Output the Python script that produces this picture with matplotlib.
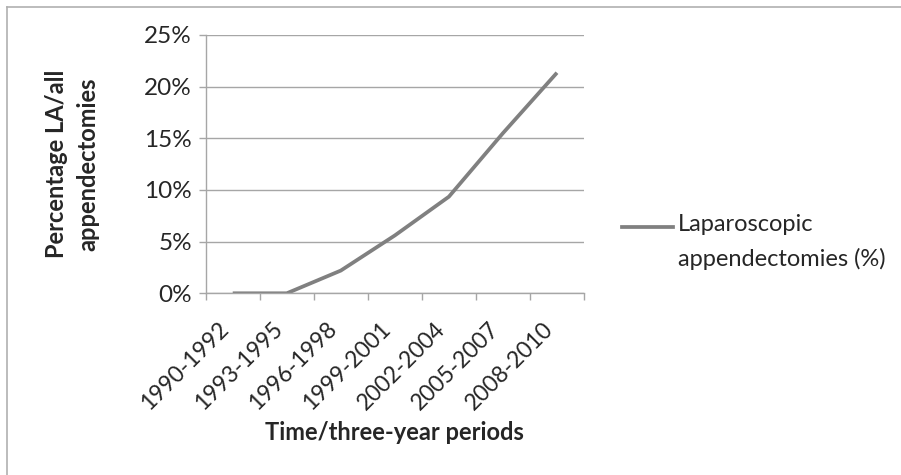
import matplotlib
matplotlib.use("Agg")
import matplotlib.pyplot as plt
from matplotlib.lines import Line2D
from matplotlib.ticker import FuncFormatter
from matplotlib.transforms import ScaledTranslation

plt.rcParams['font.family'] = ['Lato', 'DejaVu Sans']

periods = ["1990-1992", "1993-1995", "1996-1998", "1999-2001",
           "2002-2004", "2005-2007", "2008-2010"]
la_percent = [0.0, 0.0, 2.2, 5.6, 9.35, 15.5, 21.35]
yticks = [0, 5, 10, 15, 20, 25]
series_label = "Laparoscopic\nappendectomies (%)"

W, H = 901, 475
fig = plt.figure(figsize=(W / 100, H / 100), dpi=100)
ax = fig.add_axes([205.7 / W, 1 - 293.3 / H, (584 - 205.7) / W, (293.3 - 35) / H])

line_color = "#808080"
grid_color = "#a6a6a6"
text_color = "#262626"

x = list(range(len(periods)))
ax.plot(x, la_percent, color=line_color, lw=2.7, solid_capstyle='butt')

ax.set_xlim(-0.5, len(periods) - 0.5)
ax.set_ylim(0, 25)
ax.set_yticks(yticks)
ax.yaxis.set_major_formatter(FuncFormatter(lambda v, p: f"{int(v)}%"))
ax.grid(axis='y', color=grid_color, lw=1.0)
ax.set_axisbelow(True)

# x ticks at category boundaries, labels at centers
ax.set_xticks([i - 0.5 for i in range(len(periods) + 1)])
ax.set_xticklabels([])
ax.set_xticks(x, minor=True)
labels = ax.set_xticklabels(periods, minor=True, rotation=45, ha='right', va='top',
                            rotation_mode='default')
shift = ScaledTranslation(12 / 100, 0, fig.dpi_scale_trans)
for lab in labels:
    lab.set_transform(lab.get_transform() + shift)
ax.tick_params(axis='x', which='major', length=5, width=1, color=grid_color, direction='out')
ax.tick_params(axis='x', which='minor', length=0, pad=18, labelsize=16.5, labelcolor=text_color)
ax.tick_params(axis='y', length=5, width=1, color=grid_color, labelsize=17.5,
               labelcolor=text_color, pad=5)

for s in ['top', 'right']:
    ax.spines[s].set_visible(False)
for s in ['left', 'bottom']:
    ax.spines[s].set_color(grid_color)
    ax.spines[s].set_linewidth(1.0)

ax.set_xlabel("Time/three-year periods", fontsize=17, fontweight='bold', color=text_color,
              labelpad=5)
ax.set_ylabel("Percentage LA/all\nappendectomies", fontsize=17, fontweight='bold',
              color=text_color, labelpad=32, linespacing=1.45)

# legend (manual, to put the handle next to the first line)
ly = 1 - 227 / H
fig.add_artist(Line2D([622 / W, 673 / W], [ly, ly], color=line_color, lw=2.7,
                      transform=fig.transFigure))
fig.text(678 / W, ly + 0.027, series_label, fontsize=17, color=text_color,
         ha='left', va='top', linespacing=1.7,
         transform=fig.transFigure)

# chart frame (top and left visible)
fig.add_artist(Line2D([7 / W, 7 / W], [0, 1 - 7 / H], color="#b0b0b0", lw=1.2,
                      transform=fig.transFigure))
fig.add_artist(Line2D([7 / W, 1], [1 - 7 / H, 1 - 7 / H], color="#b0b0b0", lw=1.2,
                      transform=fig.transFigure))

fig.savefig("out.png", dpi=100)
